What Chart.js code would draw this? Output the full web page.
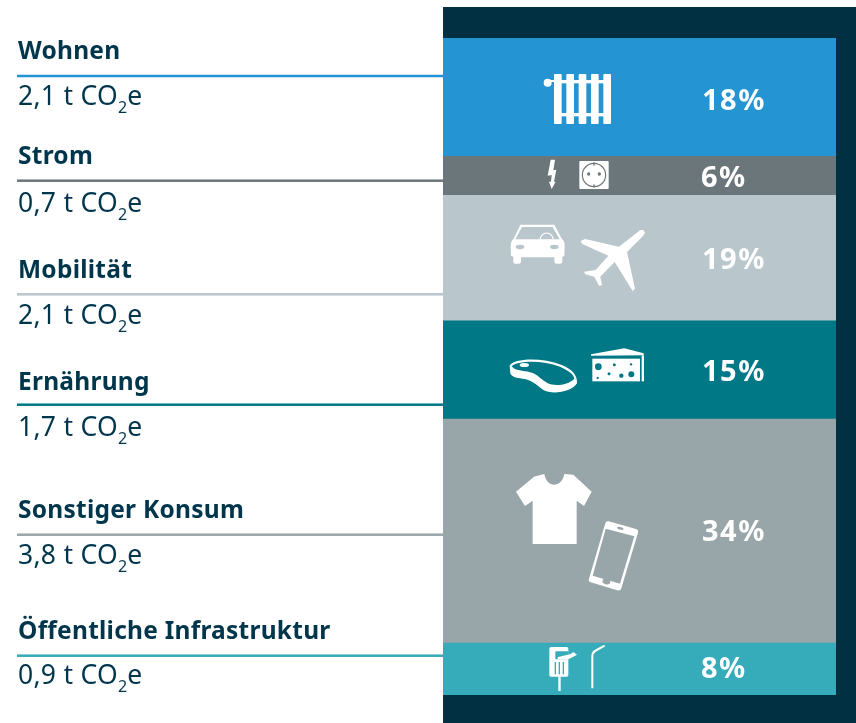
<!DOCTYPE html>
<html><head><meta charset="utf-8">
<style>html,body{margin:0;padding:0;background:#fff}canvas{display:block}</style>
<script src="https://cdn.jsdelivr.net/npm/chart.js@4/dist/chart.umd.min.js"></script>
</head><body><canvas id="c" width="856" height="723"></canvas>
<script>
const categories = ["Wohnen","Strom","Mobilität","Ernährung","Sonstiger Konsum","Öffentliche Infrastruktur"];
const percentLabels = [18,6,19,15,34,8];
const segmentValues = [17.9,5.95,19.1,14.95,34.1,8];
const tonnesLabels = ["2,1","0,7","2,1","1,7","3,8","0,9"];
const colors = ["#2494d2","#6b767a","#b9c6cb","#007886","#98a5a9","#36abb9"];

const DARK = "#003041", INK = "#00364b";
const titleBaseline = [59,164,278,390,518,639];
const valueBaseline = [105,212,324,436,564,684];
const leaderY = [76,180.7,294.3,404.7,534.7,655.7];
const pctBaseline = [110,186.5,268.5,380.5,540.5,678];
const FONT = '"Noto Sans"';

function text(ctx,s,x,y,font,color,sp){
  ctx.font=font;ctx.fillStyle=color;ctx.letterSpacing=(sp||0)+"px";ctx.textAlign="left";ctx.textBaseline="alphabetic";
  ctx.fillText(s,x,y);const w=ctx.measureText(s).width;ctx.letterSpacing="0px";return w;
}
function inCrop(ctx,ox,oy,fn){ctx.save();ctx.translate(ox,oy);ctx.scale(1/3,1/3);fn();ctx.restore();}
function poly(ctx,pts,fill){ctx.beginPath();pts.forEach((p,i)=>i?ctx.lineTo(p[0],p[1]):ctx.moveTo(p[0],p[1]));ctx.closePath();ctx.fillStyle=fill;ctx.fill();}
function dot(ctx,x,y,r,fill){ctx.beginPath();ctx.arc(x,y,r,0,Math.PI*2);ctx.fillStyle=fill;ctx.fill();}
function oval(ctx,x,y,a,b,rot,fill){ctx.beginPath();ctx.ellipse(x,y,a,b,rot,0,Math.PI*2);ctx.fillStyle=fill;ctx.fill();}

function icons(ctx){
  const W="#fff";
  inCrop(ctx,535,65,()=>{
    for(const x of [57,94,131,168,205]){ctx.beginPath();ctx.roundRect(x,27,23,150,3);ctx.fillStyle=W;ctx.fill();}
    ctx.fillStyle=W;ctx.fillRect(57,45,171,10);ctx.fillRect(57,144,171,10);ctx.fillRect(35,45,30,6);
    dot(ctx,38,53,12,W);
  });
  inCrop(ctx,535,155,()=>{
    poly(ctx,[[47,14],[60,14],[55,46],[64,44],[57,80],[62,80],[50,102],[42,80],[48,80],[50,60],[38,62]],W);
    ctx.beginPath();ctx.roundRect(133,18,88,84,3);ctx.fillStyle=W;ctx.fill();
    ctx.beginPath();ctx.arc(177,60,35,0,Math.PI*2);ctx.strokeStyle=colors[1];ctx.lineWidth=3.5;ctx.stroke();
    dot(ctx,161,57,5,colors[1]);dot(ctx,193,57,5,colors[1]);
    ctx.fillStyle=colors[1];ctx.fillRect(175,22,4,10);ctx.fillRect(175,88,4,10);
  });
  inCrop(ctx,505,220,()=>{
    const g=colors[2];
    ctx.fillStyle=W;ctx.beginPath();
    ctx.moveTo(46,14);ctx.lineTo(148,14);ctx.lineTo(170,56);ctx.quadraticCurveTo(180,62,179,80);ctx.lineTo(178,108);
    ctx.lineTo(172,110);ctx.lineTo(172,125);ctx.quadraticCurveTo(172,131,165,131);ctx.lineTo(155,131);ctx.quadraticCurveTo(148,131,148,125);ctx.lineTo(148,112);
    ctx.lineTo(48,112);ctx.lineTo(48,125);ctx.quadraticCurveTo(48,131,41,131);ctx.lineTo(31,131);ctx.quadraticCurveTo(25,131,25,125);ctx.lineTo(25,110);ctx.lineTo(18,108);
    ctx.lineTo(17,80);ctx.quadraticCurveTo(17,62,26,56);ctx.closePath();ctx.fill();
    poly(ctx,[[51,21],[143,21],[164,58],[31,58]],g);
    ctx.beginPath();ctx.arc(125,58,19,Math.PI,0);ctx.strokeStyle=W;ctx.lineWidth=3.5;ctx.stroke();
    oval(ctx,45,81,13,6.5,0,g);oval(ctx,148,81,13,6.5,0,g);
    poly(ctx,[[405,31],[414,29],[420,38],[414,48],[366,96],[390,206],[383,213],[329,126],[286,170],[291,196],[282,197],[268,170],[241,163],[237,155],[272,150],[310,107],[232,72],[227,63],[240,57],[342,80]],W);
  });
  // steak
  inCrop(ctx,505,355,()=>{
    const t=colors[3];
    ctx.fillStyle=W;ctx.beginPath();ctx.moveTo(14,32);
    ctx.bezierCurveTo(25,10,110,6,170,30);ctx.bezierCurveTo(200,42,218,60,216,85);
    ctx.bezierCurveTo(200,112,140,120,115,105);ctx.bezierCurveTo(90,85,80,78,60,72);ctx.bezierCurveTo(40,70,20,68,16,55);ctx.closePath();ctx.fill();
    ctx.fillStyle=t;ctx.beginPath();ctx.moveTo(20,34);
    ctx.bezierCurveTo(35,18,110,14,165,35);ctx.bezierCurveTo(190,46,210,60,207,72);
    ctx.bezierCurveTo(190,90,150,95,128,85);ctx.bezierCurveTo(105,72,100,58,75,52);ctx.bezierCurveTo(55,46,30,48,20,34);ctx.closePath();ctx.fill();
    oval(ctx,58,30,14,6,0,W);
  });
  // cheese
  inCrop(ctx,505,342,()=>{
    const t=colors[3];
    poly(ctx,[[258,37],[358,19],[416,34],[416,40],[258,41]],W);
    ctx.fillStyle=W;ctx.fillRect(262,50,143,68);ctx.fillRect(410,40,7,78);
    for(const h of [[280,74,10],[328,68,4.5],[378,67,3.5],[312,95,4.5],[349,101,6.5],[379,97,9],[278,108,3.5]])dot(ctx,h[0],h[1],h[2],t);
  });
  inCrop(ctx,510,470,()=>{
    const g=colors[4];
    ctx.fillStyle=W;ctx.beginPath();ctx.moveTo(18,65);ctx.lineTo(72,20);ctx.lineTo(103,12);
    ctx.bezierCurveTo(110,55,155,55,163,12);ctx.lineTo(190,14);ctx.lineTo(245,65);ctx.lineTo(222,108);ctx.lineTo(200,92);
    ctx.lineTo(200,222);ctx.lineTo(68,222);ctx.lineTo(68,92);ctx.lineTo(45,108);ctx.closePath();ctx.fill();
    ctx.beginPath();ctx.moveTo(296,154);ctx.lineTo(378,177);ctx.quadraticCurveTo(386,180,384,188);ctx.lineTo(334,355);ctx.quadraticCurveTo(331,364,322,361);
    ctx.lineTo(242,337);ctx.quadraticCurveTo(234,334,237,326);ctx.lineTo(286,160);ctx.quadraticCurveTo(288,152,296,154);ctx.closePath();ctx.fill();
    poly(ctx,[[287,176],[373,199],[330,341],[248,317]],g);
    oval(ctx,331,175,10,4,0.28,g);oval(ctx,289,335,12,8,0.28,g);
  });
  inCrop(ctx,540,642,()=>{
    const c=colors[5];
    ctx.beginPath();ctx.roundRect(28,15,57,89,5);ctx.fillStyle=W;ctx.fill();
    ctx.fillStyle=W;ctx.fillRect(55,104,7,43);
    ctx.fillStyle=c;ctx.fillRect(44,60,4,37);ctx.fillRect(56,60,4,37);ctx.fillRect(68,60,4,37);
    ctx.beginPath();ctx.roundRect(46,28,40,24,3);ctx.fill();
    poly(ctx,[[52,46],[92,36],[100,30],[111,38],[100,44],[85,52],[54,52]],W);
    ctx.strokeStyle=W;ctx.lineWidth=6;ctx.lineCap="butt";ctx.beginPath();ctx.moveTo(157,139);ctx.lineTo(157,42);ctx.quadraticCurveTo(157,30,170,24);ctx.lineTo(194,11);ctx.stroke();
  });
}

const panelAndLabels = {
  id:"panelAndLabels",
  beforeDatasetsDraw(chart){
    const {ctx,chartArea:a,width,height}=chart;
    ctx.save();ctx.fillStyle=DARK;ctx.fillRect(a.left,7,width-a.left,height-7);ctx.restore();
  },
  afterDatasetsDraw(chart){
    const {ctx,chartArea:a}=chart;
    ctx.save();
    categories.forEach((name,i)=>{
      ctx.fillStyle=colors[i];ctx.fillRect(17,leaderY[i]-1.25,a.left-17,2.5);
      text(ctx,name,18,titleBaseline[i],"700 24.5px "+FONT,INK,0.25);
      let x=18;
      x+=text(ctx,tonnesLabels[i]+" t CO",x,valueBaseline[i],"400 26.5px "+FONT,INK,0.3);
      x+=text(ctx,"2",x,valueBaseline[i]+8,"400 16px "+FONT,INK,0);
      text(ctx,"e",x,valueBaseline[i],"400 26.5px "+FONT,INK,0);
      text(ctx,percentLabels[i]+"%",percentLabels[i]<10?701:702,pctBaseline[i],"700 29px "+FONT,"#fff",1.5);
    });
    icons(ctx);
    ctx.restore();
  }
};

new Chart(document.getElementById("c"),{
  type:"bar",
  data:{labels:["Anteil"],datasets:categories.map((name,i)=>({label:name,data:[segmentValues[i]],backgroundColor:colors[i],borderWidth:0,barPercentage:1,categoryPercentage:1}))},
  options:{
    responsive:false,animation:false,
    layout:{padding:{left:443,right:20,top:38,bottom:28}},
    plugins:{legend:{display:false},tooltip:{enabled:false}},
    scales:{
      x:{stacked:true,display:false},
      y:{stacked:true,display:false,reverse:true,min:0,max:100}
    }
  },
  plugins:[panelAndLabels]
});
</script></body></html>
